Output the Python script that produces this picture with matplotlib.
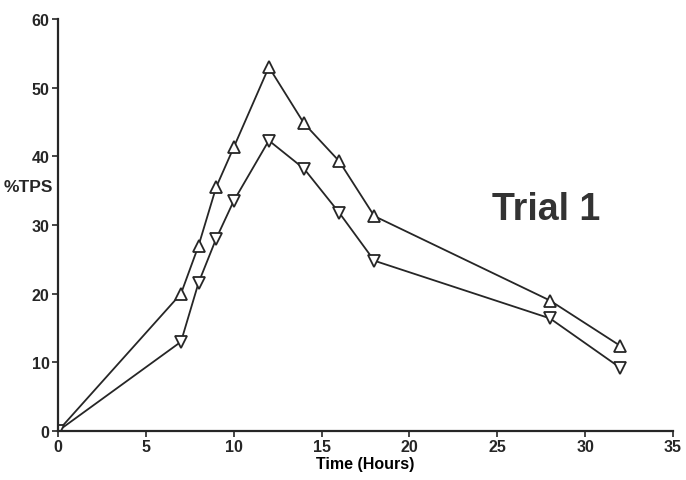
import matplotlib
matplotlib.use("Agg")
import matplotlib.pyplot as plt

# data
time_h = [0, 7, 8, 9, 10, 12, 14, 16, 18, 28, 32]
tps_up = [0, 20, 27, 35.5, 41.3, 53, 44.8, 39.3, 31.3, 19, 12.4]
tps_down = [0, 13, 21.6, 28, 33.5, 42.3, 38.2, 31.8, 24.8, 16.4, 9.2]

x_ticks = [0, 5, 10, 15, 20, 25, 30, 35]
y_ticks = [0, 10, 20, 30, 40, 50, 60]

plt.rcParams.update({
    'font.family': ['Liberation Sans', 'DejaVu Sans'],
    'font.weight': 'bold',
    'font.size': 11.5,
})

fig = plt.figure(figsize=(6.86, 4.81), dpi=100)
ax = fig.add_axes([58 / 686, 1 - 432 / 481, (673 - 58) / 686, (432 - 20) / 481])

ink = '#262626'
ax.plot(time_h, tps_up, color=ink, linewidth=1.3, marker='^', markersize=9,
        markerfacecolor='white', markeredgecolor=ink, markeredgewidth=1.3)
ax.plot(time_h, tps_down, color=ink, linewidth=1.3, marker='v', markersize=9,
        markerfacecolor='white', markeredgecolor=ink, markeredgewidth=1.3)

ax.set_xlim(0, 35)
ax.set_ylim(0, 60)
ax.set_xticks(x_ticks)
ax.set_yticks(y_ticks)
ax.spines['top'].set_visible(False)
ax.spines['right'].set_visible(False)
for s in ('left', 'bottom'):
    ax.spines[s].set_linewidth(1.6)
    ax.spines[s].set_color(ink)
ax.tick_params(axis='both', direction='out', length=4, width=1.2, colors=ink,
               labelsize=11.5, pad=2)

ax.set_xlabel('Time (Hours)', fontsize=11.5, fontweight='bold', labelpad=1)
fig.text(53 / 686, 1 - 187 / 481, '%TPS', ha='right', va='center',
         fontsize=12.5, fontweight='bold', color=ink)

ax.text(27.8, 32.3, 'Trial 1', fontsize=27, fontweight='bold', color='#333333',
        ha='center', va='center')

fig.savefig('out.png', dpi=100)
